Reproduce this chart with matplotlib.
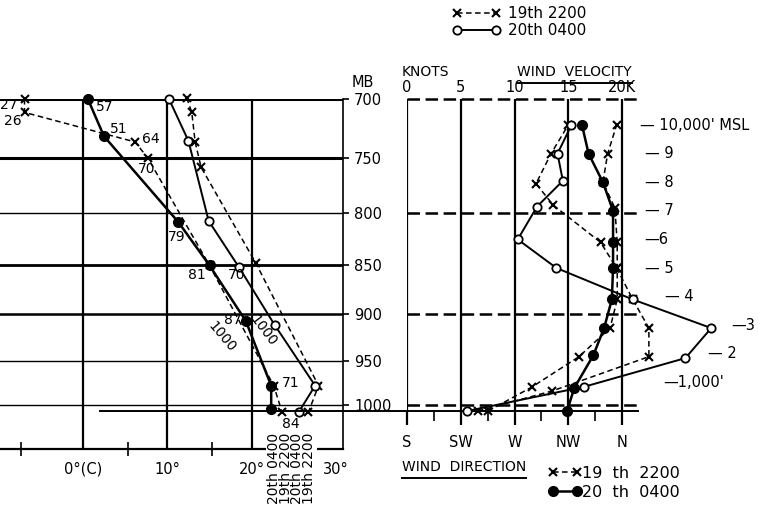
import matplotlib
matplotlib.use("Agg")
import matplotlib.pyplot as plt
import matplotlib.transforms as mtransforms
from matplotlib.lines import Line2D

plt.rcParams['font.family'] = 'DejaVu Sans'
plt.rcParams['lines.scale_dashes'] = False

# ---- temperature soundings (left panel): pressure (mb), temperature (C) ----
temp_20_p = [700, 735, 807, 852, 911, 978, 1008]
temp_20_t = [10.2, 12.5, 14.9, 18.5, 22.7, 27.5, 25.6]
temp_19_p = [699, 711, 736, 758, 848, 978, 1009]
temp_19_t = [12.3, 12.9, 13.3, 14.0, 20.5, 27.9, 26.7]

# dew points with relative humidity labels
dew_20_p = [700, 731, 808, 850, 907, 978, 1005]
dew_20_t = [0.6, 2.5, 11.3, 15.0, 19.3, 22.3, 22.3]
dew_20_rh = ['57', '51', '79', '81', '87', '71', '']
dew_19_p = [700, 711, 736, 750, 850, 978, 1009]
dew_19_t = [-6.9, -6.9, 6.2, 7.7, 15.0, 22.6, 23.6]
dew_19_rh = ['27', '26', '64', '70', '70', '', '84']

pressure_levels = [700, 750, 800, 850, 900, 950, 1000]
temp_ticks = [0, 10, 20, 30]
temp_tick_labels = ['0°(C)', '10°', '20°', '30°']
surface_names = ['20th 0400', '19th 2200', '20th 0400', '19th 2200']

# ---- winds (right panel): height in thousands of feet ----
spd_20_h = [0, 0.85, 1.85, 2.9, 3.9, 5.0, 6.0, 7.15, 8.05, 9.0, 10.0]
spd_20_kt = [5.6, 16.5, 25.9, 28.3, 21.0, 13.9, 10.3, 12.1, 14.5, 14.0, 15.3]
spd_19_h = [0, 0.7, 1.9, 2.9, 3.9, 5.0, 5.9, 7.2, 7.95, 9.0, 10.0]
spd_19_kt = [6.6, 13.5, 22.5, 22.5, 21.0, 19.5, 18.0, 13.6, 12.0, 13.4, 15.0]
dir_20_h = [0, 0.8, 1.95, 2.9, 3.9, 5.0, 5.9, 7.0, 8.0, 9.0, 10.0]
dir_20_deg = [314, 320, 336, 345, 351.5, 352.5, 352.5, 352.5, 344, 332, 326.5]
dir_19_h = [0, 0.85, 1.9, 2.9, 3.9, 5.0, 5.9, 7.1, 8.0, 9.0, 10.0]
dir_19_deg = [248, 285, 324, 350, 356, 356, 356, 354, 344, 348, 355.5]

knot_ticks = [0, 5, 10, 15, 20]
knot_labels = ['0', '5', '10', '15', '20K']
dir_ticks = [180, 225, 270, 315, 360]
dir_labels = ['S', 'SW', 'W', 'NW', 'N']
wind_pressure_lines = [700, 800, 900, 1000]

alt_h = [10, 9, 8, 7, 6, 5, 4, 3, 2, 1]
alt_labels = ["— 10,000' MSL", '— 9', '— 8', '— 7', '—6', '— 5', '— 4', '—3', '— 2', "—1,000'"]

# ---- layout / styling (not data) ----
W, H = 758, 511
level_widths = [2.2, 2.2, 1.0, 2.0, 1.8, 1.0, 1.0]
rh_20_off = [(6, -6, 'left'), (4, 5, 'left'), (-1, -11, 'center'), (-3, -7, 'right'),
             (-3, 1, 'right'), (8, 2, 'left'), (0, 0, 'left')]
rh_19_off = [(-5, -4, 'right'), (-2, -6, 'right'), (5, 2, 'left'), (-1, -8, 'center'),
             (13, -7, 'left'), (0, 0, 'left'), (6, -8, 'center')]
alt_label_x = [21.7, 22.1, 22.1, 22.1, 22.1, 22.1, 24.0, 30.2, 28.0, 23.8]
dash_span = [0, 21.5]
ground_span = [-28.6, 21.5]
dashed = (0, (4, 2.5))


def rect(x0, y0, x1, y1):
    return [x0 / W, 1 - y1 / H, (x1 - x0) / W, (y1 - y0) / H]


fig = plt.figure(figsize=(7.58, 5.11), dpi=100)
ax_t = fig.add_axes(rect(0, 99, 343, 449))
ax_w = fig.add_axes(rect(407, 99, 758, 411))
ax_d = ax_w.twiny()

# ---------------- left panel: temperature / dew point ----------------
ax_t.set_yscale('log')
ax_t.set_ylim(1053, 700)
ax_t.set_xlim(-9.8, 30.8)
ax_t.minorticks_off()
ax_t.yaxis.tick_right()
ax_t.set_yticks(pressure_levels, [str(p) for p in pressure_levels])
ax_t.tick_params(axis='y', length=4, width=1.2, pad=4, labelsize=10.5)
ax_t.set_xticks(temp_ticks, temp_tick_labels)
ax_t.set_xticks([-7.3, 5.3, 15.3], minor=True)
ax_t.tick_params(axis='x', which='major', length=0, pad=9, labelsize=10.5)
ax_t.tick_params(axis='x', which='minor', direction='inout', length=10, width=1.2)
ax_t.spines['left'].set_visible(False)
ax_t.spines['top'].set_visible(False)
ax_t.spines['right'].set_linewidth(1.2)
ax_t.spines['bottom'].set_linewidth(1.6)

for p, lw in zip(pressure_levels, level_widths):
    ax_t.axhline(p, color='k', lw=lw, zorder=1)
for t in temp_ticks[:-1]:
    ax_t.axvline(t, color='k', lw=1.6, zorder=1)

l_t19, = ax_t.plot(temp_19_t, temp_19_p, color='k', lw=1.1, ls=dashed, marker='x',
                   ms=6, mew=1.5, clip_on=False, zorder=3)
l_t20, = ax_t.plot(temp_20_t, temp_20_p, color='k', lw=1.4, marker='o', ms=6,
                   mfc='white', mew=1.3, clip_on=False, zorder=3)
ax_t.plot(dew_19_t, dew_19_p, color='k', lw=1.1, ls=dashed, marker='x',
          ms=6, mew=1.5, clip_on=False, zorder=3)
ax_t.plot(dew_20_t, dew_20_p, color='k', lw=1.8, marker='o', ms=7,
          clip_on=False, zorder=4)

for t, p, lab, (dx, dy, ha) in zip(dew_20_t, dew_20_p, dew_20_rh, rh_20_off):
    if lab:
        ax_t.annotate(lab, (t, p), xytext=(dx, dy), textcoords='offset points',
                      ha=ha, va='center', fontsize=10)
for t, p, lab, (dx, dy, ha) in zip(dew_19_t, dew_19_p, dew_19_rh, rh_19_off):
    if lab:
        ax_t.annotate(lab, (t, p), xytext=(dx, dy), textcoords='offset points',
                      ha=ha, va='center', fontsize=10)

ax_t.text(16.4, 924, '1000', rotation=-50, ha='center', va='center', fontsize=10)
ax_t.text(21.3, 917, '1000', rotation=-53, ha='center', va='center', fontsize=10)

# curve names below the surface points, one rotated block (first line leftmost)
name_x = (dew_20_t[-1] + temp_19_t[-1]) / 2 + 0.2
ax_t.text(name_x, 0.046, '\n'.join(surface_names), rotation=90, ha='center', va='top',
          fontsize=10, linespacing=0.8, ma='left',
          bbox=dict(facecolor='white', edgecolor='none', pad=0.5),
          transform=mtransforms.blended_transform_factory(ax_t.transData, ax_t.transAxes))

ax_t.annotate('MB', (1.0, 700), xycoords=('axes fraction', 'data'), xytext=(6, 12),
              textcoords='offset points', ha='left', va='center', fontsize=10.5)

# ---------------- right panel: wind velocity / direction ----------------
ax_w.set_xlim(0, 32.65)
ax_w.set_ylim(0, 10.91)
ax_d.set_xlim(180, 180 + 9 * 32.65)
for a in (ax_w, ax_d):
    for s in a.spines.values():
        s.set_visible(False)
ax_w.set_yticks([])
ax_w.xaxis.tick_top()
ax_w.set_xticks(knot_ticks, knot_labels)
ax_w.tick_params(axis='x', length=0, pad=3, labelsize=10.5)
ax_d.xaxis.tick_bottom()
ax_d.set_xticks(dir_ticks, dir_labels)
ax_d.set_xticks([202.5, 247.5, 292.5, 337.5], minor=True)
ax_d.tick_params(axis='x', which='major', direction='out', length=10, width=1.6,
                 pad=7, labelsize=10.5)
ax_d.tick_params(axis='x', which='minor', direction='out', length=7, width=1.2)

for k in knot_ticks:
    ax_w.axvline(k, color='k', lw=1.6, zorder=1)

trans = mtransforms.blended_transform_factory(ax_w.transData, ax_t.transData)
for p in wind_pressure_lines:
    ax_w.plot(dash_span, [p, p], transform=trans, color='k', lw=1.8,
              ls=(0, (9, 4)), clip_on=False, zorder=1)
ax_w.plot(ground_span, [0, 0], color='k', lw=1.4, clip_on=False, zorder=1)

ax_w.plot(spd_19_kt, spd_19_h, color='k', lw=1.1, ls=dashed, marker='x', ms=6,
          mew=1.5, clip_on=False, zorder=3)
ax_w.plot(spd_20_kt, spd_20_h, color='k', lw=1.4, marker='o', ms=6, mfc='white',
          mew=1.3, clip_on=False, zorder=3)
l_d19, = ax_d.plot(dir_19_deg, dir_19_h, color='k', lw=1.1, ls=dashed, marker='x',
                   ms=6, mew=1.5, clip_on=False, zorder=3)
l_d20, = ax_d.plot(dir_20_deg, dir_20_h, color='k', lw=1.8, marker='o', ms=7,
                   clip_on=False, zorder=4)

for x, h, lab in zip(alt_label_x, alt_h, alt_labels):
    ax_w.text(x, h, lab, ha='left', va='center', fontsize=10.5, clip_on=False)

# ---------------- titles and legends ----------------
t_knots = fig.text(402 / W, 1 - 72 / H, 'KNOTS', fontsize=10, va='center')
t_vel = fig.text(517 / W, 1 - 72 / H, 'WIND  VELOCITY', fontsize=10, va='center')
t_dir = fig.text(402 / W, 1 - 467 / H, 'WIND  DIRECTION', fontsize=10, va='center')

fig.legend([l_t19, l_t20], ['19th 2200', '20th 0400'], loc='upper left',
           bbox_to_anchor=(452 / W, 1 - 6 / H), frameon=False, numpoints=2,
           handlelength=3.2, handletextpad=0.45, borderpad=0, borderaxespad=0,
           labelspacing=0.15, fontsize=11)
fig.legend([l_d19, l_d20], ['19  th  2200', '20  th  0400'], loc='upper left',
           bbox_to_anchor=(548 / W, 1 - 466 / H), frameon=False, numpoints=2,
           handlelength=2.1, handletextpad=0.05, borderpad=0, borderaxespad=0,
           labelspacing=0.22, fontsize=11.5)

# underline the two panel titles
fig.canvas.draw()
inv = fig.transFigure.inverted()
for txt in (t_vel, t_dir):
    bb = txt.get_window_extent()
    (x0, y0), (x1, _) = inv.transform([(bb.x0, bb.y0 - 4), (bb.x1, bb.y0 - 4)])
    fig.add_artist(Line2D([x0, x1], [y0, y0], color='k', lw=1.4,
                          transform=fig.transFigure))

fig.savefig('out.png', dpi=100, facecolor='white')
